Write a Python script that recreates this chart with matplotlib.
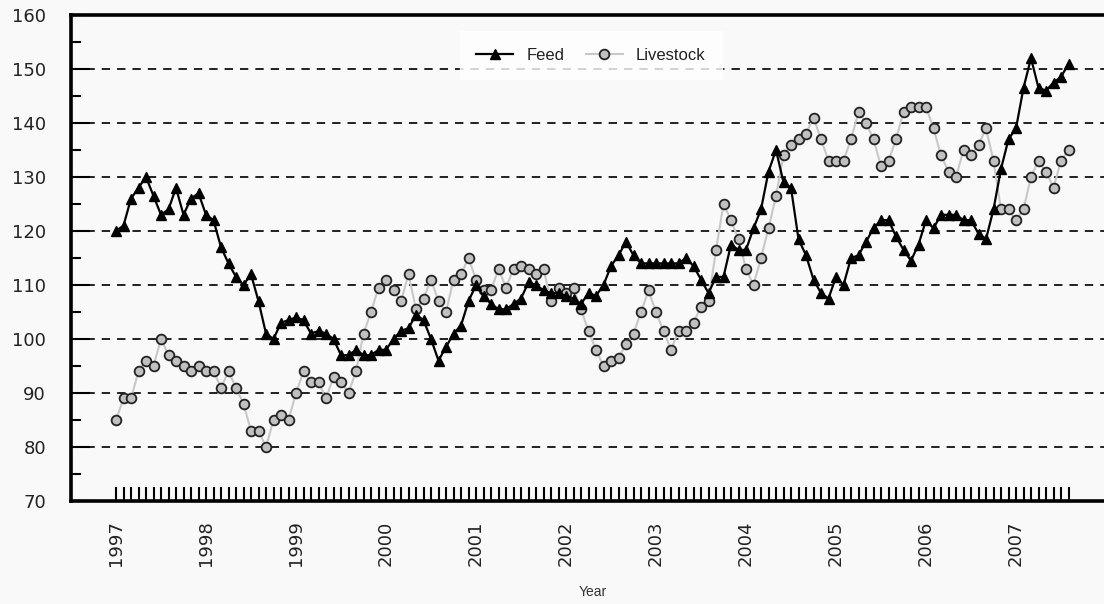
import matplotlib
matplotlib.use("Agg")
import matplotlib.pyplot as plt
from matplotlib.ticker import FixedLocator, NullFormatter

years = list(range(1997, 2008))
feed = [120, 121, 126, 128, 130, 126.5, 123, 124, 128, 123, 126, 127,
        123, 122, 117, 114, 111.5, 110, 112, 107, 101, 100, 103, 103.5,
        104, 103.5, 101, 101.5, 101, 100, 97, 97, 98, 97, 97, 98,
        98, 100, 101.5, 102, 104.5, 103.5, 100, 96, 98.5, 101, 102.5, 107,
        110, 108, 106.5, 105.5, 105.5, 106.5, 107.5, 110.5, 110, 109, 108.5, 108.5,
        108, 107.5, 106.5, 108.5, 108, 110, 113.5, 115.5, 118, 115.5, 114, 114,
        114, 114, 114, 114, 115, 113.5, 111, 108.5, 111.5, 111.5, 117.5, 116.5,
        116.5, 120.5, 124, 131, 135, 129, 128, 118.5, 115.5, 111, 108.5, 107.5,
        111.5, 110, 115, 115.5, 118, 120.5, 122, 122, 119, 116.5, 114.5, 117.5,
        122, 120.5, 123, 123, 123, 122, 122, 119.5, 118.5, 124, 131.5, 137,
        139, 146.5, 152, 146.5, 146, 147.5, 148.5, 151]
livestock = [85, 89, 89, 94, 96, 95, 100, 97, 96, 95, 94, 95,
             94, 94, 91, 94, 91, 88, 83, 83, 80, 85, 86, 85,
             90, 94, 92, 92, 89, 93, 92, 90, 94, 101, 105, 109.5,
             111, 109, 107, 112, 105.5, 107.5, 111, 107, 105, 111, 112, 115,
             111, 109, 109, 113, 109.5, 113, 113.5, 113, 112, 113, 107, 109.5,
             108.5, 109.5, 105.5, 101.5, 98, 95, 96, 96.5, 99, 101, 105, 109,
             105, 101.5, 98, 101.5, 101.5, 103, 106, 107, 116.5, 125, 122, 118.5,
             113, 110, 115, 120.5, 126.5, 134, 136, 137, 138, 141, 137, 133,
             133, 133, 137, 142, 140, 137, 132, 133, 137, 142, 143, 143,
             143, 139, 134, 131, 130, 135, 134, 136, 139, 133, 124, 124,
             122, 124, 130, 133, 131, 128, 133, 135]
y_ticks = [70, 80, 90, 100, 110, 120, 130, 140, 150, 160]

months = list(range(len(feed)))

W, H = 1104, 604
bg = "#f9f9f9"
fig = plt.figure(figsize=(W / 100, H / 100), dpi=100, facecolor=bg)
ax = fig.add_axes([71 / W, 1 - 501 / H, 1 - 71 / W, (501 - 15) / H], facecolor=bg)

plt.rcParams["font.family"] = ["Liberation Sans", "DejaVu Sans"]

ax.set_xlim(-6, -6 + (W - 71) / 7.5)
ax.set_ylim(70, 160)

# gridlines
for v in y_ticks[1:-1]:
    ax.axhline(v, color="#222222", lw=1.4, dashes=(4.3, 3.6), zorder=1)

ax.plot(months, livestock, color="#c8c8c8", lw=1.5, marker="o", markersize=7,
        markerfacecolor="#c0c0c0", markeredgecolor="#222222", markeredgewidth=1.3,
        label="Livestock", zorder=2)
ax.plot(months, feed, color="#000000", lw=1.6, marker="^", markersize=7.5,
        markerfacecolor="#000000", markeredgecolor="#000000",
        label="Feed", zorder=3)

for s in ["left", "bottom", "top"]:
    ax.spines[s].set_linewidth(2.6)
    ax.spines[s].set_color("#000000")
ax.spines["right"].set_visible(False)

# y ticks
ax.set_yticks(y_ticks)
ax.set_yticklabels([str(v) for v in y_ticks])
ax.yaxis.set_minor_locator(FixedLocator([v + 5 for v in y_ticks[:-1]]))
ax.tick_params(axis="y", which="major", direction="in", length=14, width=1.5,
               pad=18, labelsize=13, labelcolor="#222222")
ax.tick_params(axis="y", which="minor", direction="in", length=7, width=1.5)

# x ticks: year labels at January, monthly minor ticks
ax.set_xticks([12 * k for k in range(len(years))])
ax.set_xticklabels([str(y) for y in years], rotation=90)
ax.xaxis.set_minor_locator(FixedLocator(months))
ax.xaxis.set_minor_formatter(NullFormatter())
ax.tick_params(axis="x", which="both", direction="in", length=10, width=1.5)
ax.tick_params(axis="x", which="major", pad=14, labelsize=13, labelcolor="#222222")

fig.text(593 / W, 1 - 592 / H, "Year", ha="center", va="center",
         fontsize=10, color="#333333")

handles, labels = ax.get_legend_handles_labels()
leg = fig.legend(handles[::-1], labels[::-1], loc="center", ncol=2,
                 bbox_to_anchor=(591 / W, 1 - 55 / H), frameon=True,
                 fontsize=12, handlelength=2.2, columnspacing=1.3,
                 borderpad=1.0, fancybox=False)
leg.get_frame().set_facecolor("#ffffff")
leg.get_frame().set_edgecolor("#ffffff")
for t in leg.get_texts():
    t.set_color("#222222")

fig.savefig("out.png", dpi=100, facecolor=bg)
